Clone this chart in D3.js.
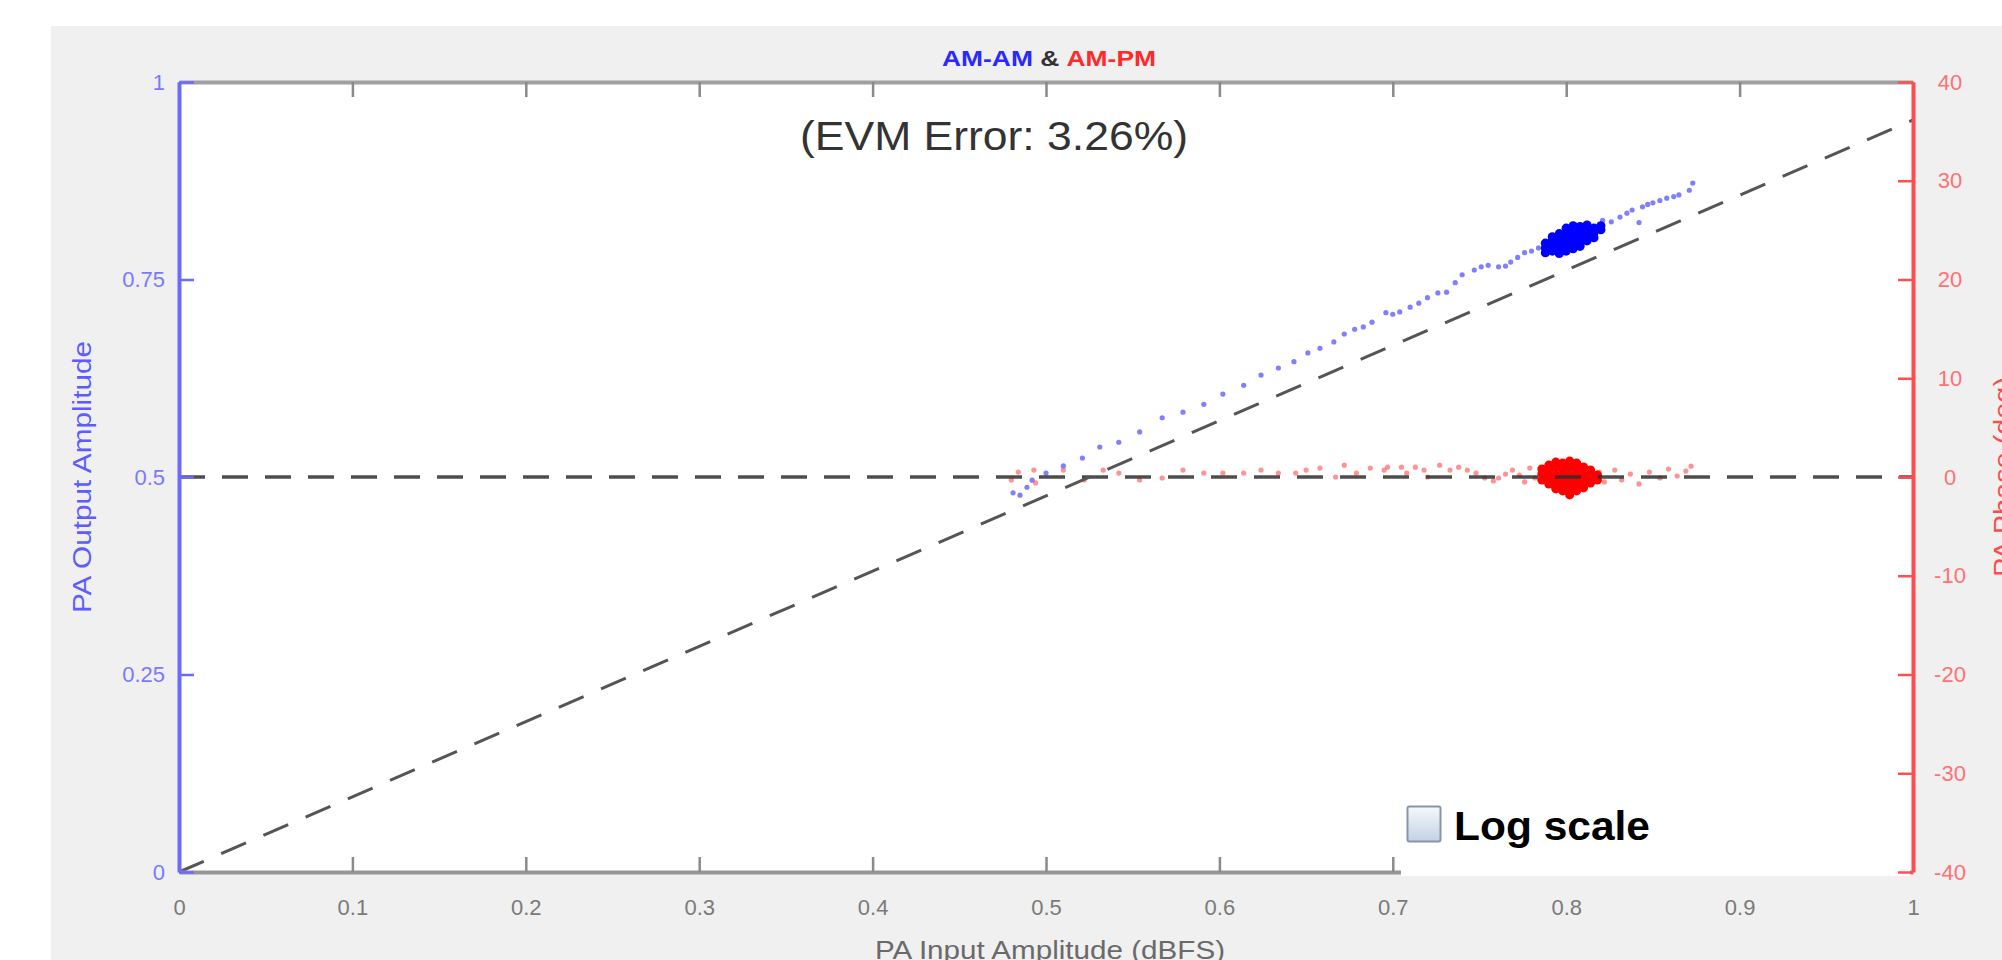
<!DOCTYPE html>
<html>
<head>
<meta charset="utf-8">
<script src="https://cdn.jsdelivr.net/npm/d3@7"></script>
<style>
  body { margin: 0; background: #fff; }
  svg { display: block; font-family: 'Liberation Sans', Arial, sans-serif; }
</style>
</head>
<body>
<div id="chart"></div>
<script>
/* global d3 */

// tick values
const xTicks = [0, 0.1, 0.2, 0.3, 0.4, 0.5, 0.6, 0.7, 0.8, 0.9, 1]
const ampTicks = [0, 0.25, 0.5, 0.75, 1]
const phaseTicks = [-40, -30, -20, -10, 0, 10, 20, 30, 40]

// reference lines: linear gain and zero phase
const gainLine = [[0, 0], [1, 0.952]]
const zeroPhase = 0

// AM-AM samples [input, output]
const amamPoints = [
  [0.481, 0.480], [0.485, 0.477], [0.489, 0.487], [0.492, 0.496], [0.500, 0.505],
  [0.510, 0.514], [0.521, 0.524], [0.531, 0.538], [0.542, 0.544], [0.554, 0.557],
  [0.567, 0.575], [0.579, 0.582], [0.591, 0.592], [0.602, 0.605], [0.614, 0.616],
  [0.624, 0.629], [0.634, 0.638], [0.643, 0.646], [0.651, 0.657], [0.658, 0.663],
  [0.666, 0.671], [0.672, 0.681], [0.678, 0.687], [0.683, 0.690], [0.688, 0.696],
  [0.696, 0.708], [0.700, 0.706], [0.704, 0.709], [0.710, 0.715], [0.715, 0.720],
  [0.720, 0.727], [0.726, 0.733], [0.731, 0.734], [0.736, 0.746], [0.740, 0.756],
  [0.747, 0.762], [0.751, 0.766], [0.755, 0.768], [0.761, 0.766], [0.765, 0.767],
  [0.768, 0.772], [0.772, 0.778], [0.776, 0.784], [0.780, 0.786], [0.784, 0.790],
  [0.821, 0.825], [0.826, 0.823], [0.831, 0.829], [0.835, 0.834], [0.838, 0.838],
  [0.842, 0.822], [0.844, 0.842], [0.847, 0.845], [0.850, 0.847], [0.854, 0.850],
  [0.858, 0.853], [0.862, 0.855], [0.865, 0.857], [0.871, 0.863], [0.873, 0.872]
]

// dense AM-AM cluster around 0.8
const amamCore = [
  [0.788, 0.790], [0.788, 0.796], [0.788, 0.784],
  [0.792, 0.792], [0.792, 0.799], [0.792, 0.786], [0.792, 0.804],
  [0.796, 0.794], [0.796, 0.801], [0.796, 0.788], [0.796, 0.808], [0.796, 0.783],
  [0.800, 0.797], [0.800, 0.804], [0.800, 0.790], [0.800, 0.811], [0.800, 0.786], [0.800, 0.815],
  [0.804, 0.800], [0.804, 0.807], [0.804, 0.793], [0.804, 0.814], [0.804, 0.789], [0.804, 0.818],
  [0.808, 0.803], [0.808, 0.810], [0.808, 0.796], [0.808, 0.817], [0.808, 0.792],
  [0.812, 0.806], [0.812, 0.813], [0.812, 0.799], [0.812, 0.819],
  [0.816, 0.809], [0.816, 0.815], [0.816, 0.803],
  [0.820, 0.813], [0.820, 0.818]
]

// AM-PM samples [input, phase deg]
const ampmPoints = [
  [0.480, -0.3], [0.484, 0.5], [0.493, 0.7], [0.494, -0.6], [0.510, 0.7],
  [0.522, -0.3], [0.533, 0.7], [0.542, 0.4], [0.554, -0.3], [0.567, -0.1],
  [0.579, 0.7], [0.591, 0.4], [0.602, 0.4], [0.614, 0.4], [0.624, 0.7],
  [0.634, 0.4], [0.644, 0.4], [0.650, 0.7], [0.658, 0.9], [0.667, 0.0],
  [0.672, 1.2], [0.679, 0.4], [0.687, 0.9], [0.695, 0.7], [0.697, 1.0],
  [0.705, 1.0], [0.708, 0.4], [0.713, 1.0], [0.718, 0.7], [0.720, 0.0],
  [0.727, 1.2], [0.733, 0.7], [0.738, 1.0], [0.743, 0.7], [0.748, 0.4],
  [0.753, -0.1], [0.758, -0.4], [0.761, -0.1], [0.765, 0.3], [0.769, 0.7],
  [0.773, 0.2], [0.776, -0.5], [0.779, 0.9], [0.782, -0.1],
  [0.819, 0.5], [0.822, -0.5], [0.828, 0.7], [0.832, -0.3], [0.837, 0.3],
  [0.842, -0.7], [0.848, 0.5], [0.854, -0.1], [0.859, 0.8], [0.864, 0.1],
  [0.869, 0.6], [0.872, 1.1]
]

// dense AM-PM cluster around 0.8
const ampmCore = [
  [0.786, 0.3], [0.786, -0.3], [0.786, 0.8],
  [0.790, 0.0], [0.790, 0.7], [0.790, -0.7], [0.790, 1.2],
  [0.794, 0.2], [0.794, -0.5], [0.794, 1.0], [0.794, -1.2], [0.794, 1.5],
  [0.798, 0.0], [0.798, 0.7], [0.798, -0.7], [0.798, 1.4], [0.798, -1.4],
  [0.802, 0.2], [0.802, -0.5], [0.802, 1.0], [0.802, -1.2], [0.802, 1.6], [0.802, -1.8],
  [0.806, 0.0], [0.806, 0.7], [0.806, -0.7], [0.806, 1.4], [0.806, -1.4],
  [0.810, 0.2], [0.810, -0.5], [0.810, 1.0], [0.810, -1.1],
  [0.814, 0.0], [0.814, 0.7], [0.814, -0.6],
  [0.818, 0.2], [0.818, -0.3]
]

const W = 2002
const H = 960
const plot = { left: 179, right: 1913, top: 82, bottom: 872 }

const svg = d3.select('#chart')
  .append('svg')
  .attr('width', W)
  .attr('height', H)

const defs = svg.append('defs')
const grad = defs.append('linearGradient')
  .attr('id', 'chk')
  .attr('x1', 0).attr('y1', 0).attr('x2', 0).attr('y2', 1)
grad.append('stop').attr('offset', '0%').attr('stop-color', '#f6f8fb')
grad.append('stop').attr('offset', '100%').attr('stop-color', '#c4d2e3')

// figure panel
svg.append('rect')
  .attr('x', 51).attr('y', 26)
  .attr('width', W - 51).attr('height', H - 26)
  .attr('fill', '#f0f0f0')

svg.append('rect')
  .attr('x', plot.left).attr('y', plot.top)
  .attr('width', plot.right - plot.left).attr('height', plot.bottom - plot.top)
  .attr('fill', '#fff')

const x = d3.scaleLinear().domain([0, 1]).range([plot.left, plot.right])
const yAmp = d3.scaleLinear().domain([0, 1]).range([plot.bottom, plot.top])
const yPh = d3.scaleLinear().domain([-40, 40]).range([plot.bottom, plot.top])

// points
const pts = svg.append('g')
pts.selectAll('.amam')
  .data(amamPoints)
  .join('circle')
  .attr('cx', (d) => x(d[0]))
  .attr('cy', (d) => yAmp(d[1]))
  .attr('r', 2.6)
  .attr('fill', '#4a4aff')
  .attr('opacity', 0.7)
pts.selectAll('.amamc')
  .data(amamCore)
  .join('circle')
  .attr('cx', (d) => x(d[0]))
  .attr('cy', (d) => yAmp(d[1]))
  .attr('r', 4.6)
  .attr('fill', '#0000ff')
pts.selectAll('.ampm')
  .data(ampmPoints)
  .join('circle')
  .attr('cx', (d) => x(d[0]))
  .attr('cy', (d) => yPh(d[1]))
  .attr('r', 2.6)
  .attr('fill', '#ff4a4a')
  .attr('opacity', 0.6)
pts.selectAll('.ampmc')
  .data(ampmCore)
  .join('circle')
  .attr('cx', (d) => x(d[0]))
  .attr('cy', (d) => yPh(d[1]))
  .attr('r', 4.6)
  .attr('fill', '#ff0000')

// dashed reference lines
svg.append('line')
  .attr('x1', x(0)).attr('x2', x(1))
  .attr('y1', yPh(zeroPhase)).attr('y2', yPh(zeroPhase))
  .attr('stroke', '#2e2e2e')
  .attr('stroke-opacity', 0.85)
  .attr('stroke-width', 3.5)
  .attr('stroke-dasharray', '26,17')

svg.append('path')
  .datum(gainLine)
  .attr('d', d3.line().x((d) => x(d[0])).y((d) => yAmp(d[1])))
  .attr('fill', 'none')
  .attr('stroke', '#555')
  .attr('stroke-width', 3)
  .attr('stroke-dasharray', '27,19')

const fmt = (d) => String(d)

function styleAxis(g, lineColor, tickColor, textColor) {
  g.select('.domain').attr('stroke', lineColor).attr('stroke-width', 4)
  g.selectAll('.tick line').attr('stroke', tickColor).attr('stroke-width', 2.5)
  g.selectAll('.tick text')
    .attr('fill', textColor)
    .style('font-size', '22px')
    .style('font-family', "'Liberation Sans', Arial, sans-serif")
}

// top box edge
const gTop = svg.append('g')
  .attr('transform', `translate(0,${plot.top})`)
  .call(d3.axisTop(x).tickValues(xTicks).tickSize(-15).tickSizeOuter(0).tickFormat(''))
styleAxis(gTop, '#a0a0a0', '#8a8a8a', '#808080')

// bottom axis
const gBottom = svg.append('g')
  .attr('transform', `translate(0,${plot.bottom})`)
  .call(d3.axisBottom(x).tickValues(xTicks).tickSize(-15).tickSizeOuter(0).tickPadding(27).tickFormat(fmt))
styleAxis(gBottom, '#969696', '#8a8a8a', '#7a7a7a')

// left axis (amplitude)
const gLeft = svg.append('g')
  .attr('transform', `translate(${plot.left},0)`)
  .call(d3.axisLeft(yAmp).tickValues(ampTicks).tickSize(-15).tickSizeOuter(0).tickPadding(14).tickFormat(fmt))
styleAxis(gLeft, '#6a6aff', '#6a6aff', '#7a7aff')

// white box of the Log scale checkbox covers the axis corner
svg.append('rect')
  .attr('x', 1401).attr('y', 790)
  .attr('width', plot.right - 1401 - 3).attr('height', 86)
  .attr('fill', '#fff')

// right axis (phase)
const gRight = svg.append('g')
  .attr('transform', `translate(${plot.right},0)`)
  .call(d3.axisRight(yPh).tickValues(phaseTicks).tickSize(-15).tickSizeOuter(0).tickPadding(37).tickFormat(fmt))
styleAxis(gRight, '#ff4d4d', '#ff5050', '#ff7272')
gRight.selectAll('.tick text').attr('text-anchor', 'middle')

// axis titles
svg.append('text')
  .attr('transform', `translate(91,477) rotate(-90)`)
  .attr('text-anchor', 'middle')
  .attr('textLength', 272)
  .attr('lengthAdjust', 'spacingAndGlyphs')
  .attr('fill', '#5c5cff')
  .style('font-size', '26px')
  .text('PA Output Amplitude')

svg.append('text')
  .attr('transform', `translate(2012,477) rotate(-90)`)
  .attr('text-anchor', 'middle')
  .attr('textLength', 200)
  .attr('lengthAdjust', 'spacingAndGlyphs')
  .attr('fill', '#ff4a4a')
  .style('font-size', '26px')
  .text('PA Phase (deg)')

svg.append('text')
  .attr('x', 1050).attr('y', 959)
  .attr('text-anchor', 'middle')
  .attr('textLength', 350)
  .attr('lengthAdjust', 'spacingAndGlyphs')
  .attr('fill', '#6a6a6a')
  .style('font-size', '26px')
  .text('PA Input Amplitude (dBFS)')

// title
const title = svg.append('text')
  .attr('transform', 'translate(1049,66) scale(1.2,1)')
  .attr('text-anchor', 'middle')
  .style('font-size', '22px')
  .style('font-weight', 'bold')
title.append('tspan').attr('fill', '#2a2aff').text('AM-AM')
title.append('tspan').attr('fill', '#333').text(' & ')
title.append('tspan').attr('fill', '#ff2a2a').text('AM-PM')

// EVM annotation
svg.append('text')
  .attr('x', 800).attr('y', 150)
  .attr('textLength', 388)
  .attr('lengthAdjust', 'spacingAndGlyphs')
  .attr('fill', '#333')
  .style('font-size', '40px')
  .text('(EVM Error: 3.26%)')

// Log scale checkbox
svg.append('rect')
  .attr('x', 1407.5).attr('y', 806.5)
  .attr('width', 33).attr('height', 35)
  .attr('rx', 2)
  .attr('fill', 'url(#chk)')
  .attr('stroke', '#8595a8')
  .attr('stroke-width', 2)

svg.append('text')
  .attr('x', 1454).attr('y', 840)
  .attr('textLength', 196)
  .attr('lengthAdjust', 'spacingAndGlyphs')
  .attr('fill', '#000')
  .style('font-size', '40px')
  .style('font-weight', 'bold')
  .text('Log scale')
</script>
</body>
</html>
